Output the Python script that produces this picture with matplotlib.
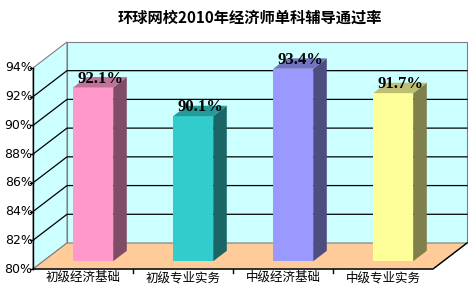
import matplotlib
matplotlib.use('Agg')
import matplotlib.pyplot as plt
from matplotlib.patches import Polygon

plt.rcParams['font.family'] = ['Noto Sans CJK SC', 'DejaVu Sans']

## ---------------------- DATA -------------------------------
title = '环球网校2010年经济师单科辅导通过率'
categories = ['初级经济基础', '初级专业实务', '中级经济基础', '中级专业实务']
rates = [92.1, 90.1, 93.4, 91.7]
labels = ['92.1%', '90.1%', '93.4%', '91.7%']
y_ticks = [80, 82, 84, 86, 88, 90, 92, 94]
y_min, y_max = 80, 94

front_colors = ['#FF99CC', '#33CCCC', '#9999FF', '#FFFF99']

## ---------------------- GEOMETRY -------------------------------
# oblique 3d: depth offset in data units
dx, dy = 0.34, 1.81
x0, x1 = -0.5, len(categories) - 0.5
d0, d1 = 0.3, 0.7      # bar depth range
bw = 0.4               # bar width


def shade(c, f):
    r, g, b = matplotlib.colors.to_rgb(c)
    return (r * f, g * f, b * f)


fig = plt.figure(figsize=(4.77, 2.94), dpi=100)
ax = fig.add_axes([0, 0, 1, 1])
ax.set_xlim(-0.83, 3.94)
ax.set_ylim(78.26, 98.73)
ax.axis('off')

wall = '#CCFFFF'
edge = '#808080'

# back wall
ax.add_patch(Polygon([(x0 + dx, y_min + dy), (x1 + dx, y_min + dy),
                      (x1 + dx, y_max + dy), (x0 + dx, y_max + dy)],
                     closed=True, fc=wall, ec=edge, lw=0.8, zorder=1))
# side wall
ax.add_patch(Polygon([(x0, y_min), (x0 + dx, y_min + dy),
                      (x0 + dx, y_max + dy), (x0, y_max)],
                     closed=True, fc=wall, ec=edge, lw=0.8, zorder=1))
# floor
ax.add_patch(Polygon([(x0, y_min), (x1, y_min), (x1 + dx, y_min + dy),
                      (x0 + dx, y_min + dy)],
                     closed=True, fc='#FFCC99', ec=edge, lw=0.8, zorder=1))

# gridlines
for v in y_ticks[1:-1]:
    ax.plot([x0, x0 + dx, x1 + dx], [v, v + dy, v + dy], color='black', lw=0.9, zorder=2)

# axes lines
ax.plot([x0, x0], [y_min, y_max], color='black', lw=1, zorder=3)
ax.plot([x0, x1, x1 + dx], [y_min, y_min, y_min + dy], color='black', lw=1, zorder=3)
for v in y_ticks:
    ax.plot([x0 - 0.03, x0], [v, v], color='black', lw=1, zorder=3)
    ax.text(x0 - 0.005, v, f'{v}%', ha='right', va='center', fontsize=9,
            family=['DejaVu Sans'], zorder=4)
for i in range(1, len(categories)):
    ax.plot([x0 + i, x0 + i], [y_min, y_min - 0.3], color='black', lw=1, zorder=3)
for i, cat in enumerate(categories):
    ax.text(i, y_min - 0.6, cat, ha='center', va='center', fontsize=9, zorder=4)

# bars
for i, (v, c) in enumerate(zip(rates, front_colors)):
    xl = i - bw / 2 + d0 * dx
    xr = i + bw / 2 + d0 * dx
    yb = y_min + d0 * dy
    yt = v + d0 * dy
    ddx = (d1 - d0) * dx
    ddy = (d1 - d0) * dy
    ax.add_patch(Polygon([(xl, yb), (xr, yb), (xr, yt), (xl, yt)],
                         closed=True, fc=c, ec='none', zorder=5))
    ax.add_patch(Polygon([(xr, yb), (xr + ddx, yb + ddy), (xr + ddx, yt + ddy), (xr, yt)],
                         closed=True, fc=shade(c, 0.5), ec='none', zorder=5))
    ax.add_patch(Polygon([(xl, yt), (xr, yt), (xr + ddx, yt + ddy), (xl + ddx, yt + ddy)],
                         closed=True, fc=shade(c, 0.75), ec='none', zorder=5))
    ax.text(i + 0.5 * dx, v + 0.5 * dy + 0.25, labels[i], ha='center', va='center',
            fontsize=12, fontweight='bold', family=['Liberation Serif'], zorder=6)

ax.text(1.5 + dx / 2, 97.5, title, ha='center', va='center', fontsize=11,
        fontweight='bold', zorder=6)

fig.savefig('out.png', dpi=100)
